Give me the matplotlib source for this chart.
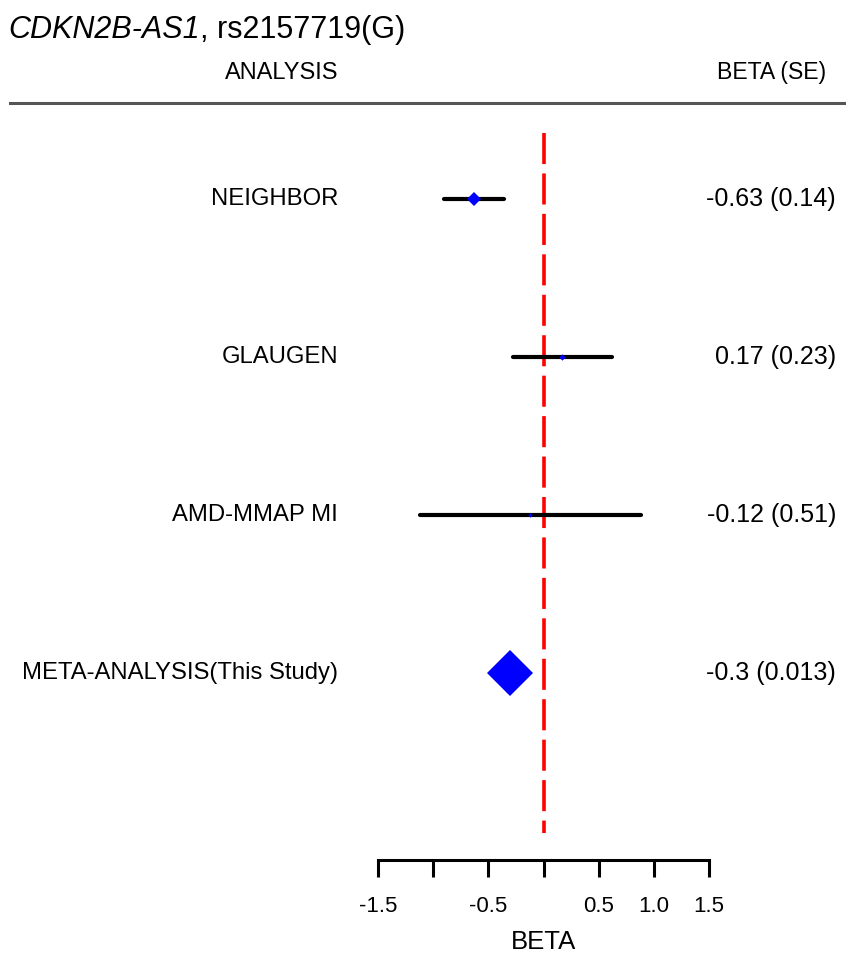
import matplotlib
matplotlib.use("Agg")
import matplotlib.pyplot as plt

# data
studies = ["NEIGHBOR", "GLAUGEN", "AMD-MMAP MI", "META-ANALYSIS(This Study)"]
beta = [-0.63, 0.17, -0.12, -0.30]
se = [0.14, 0.23, 0.51, 0.013]
beta_labels = ["-0.63 (0.14)", "0.17 (0.23)", "-0.12 (0.51)", "-0.3 (0.013)"]
marker_sizes = [7.5, 3.2, 2.2, 23.5]
xticks = [-1.5, -1.0, -0.5, 0.0, 0.5, 1.0, 1.5]
xtick_labels = ["-1.5", "", "-0.5", "", "0.5", "1.0", "1.5"]

W, H = 846, 965
plt.rcParams["font.family"] = ["Liberation Sans", "DejaVu Sans"]
fig = plt.figure(figsize=(W / 100, H / 100), dpi=100)


def fy(px):
    return 1 - px / H


def fx(px):
    return px / W


# plot area: x pixels 378..709, y pixels 103..860
ax = fig.add_axes([fx(378), fy(860), fx(709) - fx(378), fy(103) - fy(860)])
ax.set_xlim(-1.5, 1.5)
# rows sit at y = 41 + 158 * i pixels
ax.set_ylim((860 - 41) / 158, (103 - 41) / 158)

for s in ["top", "left", "right"]:
    ax.spines[s].set_visible(False)
ax.spines["bottom"].set_linewidth(2.2)
ax.set_yticks([])
ax.set_xticks(xticks)
ax.set_xticklabels(xtick_labels, fontsize=16)
ax.tick_params(axis="x", length=12, width=2.2, pad=14)
ax.set_xlabel("BETA", fontsize=18.5, labelpad=9)

# reference line
ax.plot([0, 0], [(133 - 41) / 158, (833 - 41) / 158], color="red", lw=2.6,
        dashes=(8.6, 2.6), zorder=1)

for i in range(len(studies)):
    y = i + 1
    if i < 3:
        lo = beta[i] - 1.96 * se[i]
        hi = beta[i] + 1.96 * se[i]
        ax.plot([lo, hi], [y, y], color="black", lw=3, solid_capstyle="round", zorder=2)
    ax.plot(beta[i], y, marker="D", color="blue", markersize=marker_sizes[i],
            markeredgewidth=0, zorder=3)
    fig.text(fx(338), fy(41 + 158 * y), studies[i], ha="right", va="center", fontsize=17.2)
    fig.text(fx(836), fy(41 + 158 * y), beta_labels[i], ha="right", va="center", fontsize=18)

# header
fig.text(fx(338), fy(73), "ANALYSIS", ha="right", va="center", fontsize=17)
fig.text(fx(826), fy(73), "BETA (SE)", ha="right", va="center", fontsize=16.6)
fig.add_artist(plt.Line2D([fx(10), 1], [fy(103), fy(103)], color="#555555", lw=2.2))

# title: italic gene name followed by the SNP
t1 = fig.text(fx(8), fy(30), "CDKN2B-AS1", style="italic", ha="left", va="center", fontsize=22)
fig.canvas.draw()
bb = t1.get_window_extent(fig.canvas.get_renderer())
fig.text(bb.x1 / W, fy(30), ", rs2157719(G)", ha="left", va="center", fontsize=22)

fig.savefig("out.png", dpi=100)
